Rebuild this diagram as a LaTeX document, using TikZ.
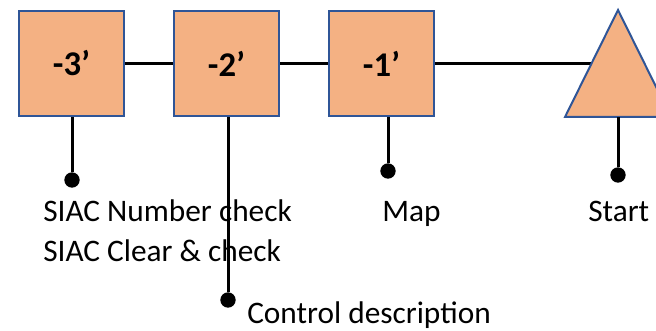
\documentclass[tikz,border=0pt]{standalone}
\usepackage{fontspec}
\setmainfont{Carlito}
\definecolor{boxfill}{HTML}{F4B183}
\definecolor{boxline}{HTML}{2F5597}
\begin{document}
\begin{tikzpicture}
[x=0.75pt,y=-0.75pt,
  boxdecorate/.style={shape=rectangle,draw=boxline,fill=boxfill,line width=1.5pt,
    minimum size=79pt,inner sep=0pt,font=\fontsize{26}{30}\selectfont\bfseries},%
  linedecorate/.style={line width=2.25pt,black},
  dotdecorate/.style={shape=circle,fill=black,inner sep=0pt,minimum size=11.5pt},
  textdecorate/.style={anchor=base west,inner sep=0pt,font=\fontsize{23.5}{28}\selectfont}]
\useasboundingbox (0,0) rectangle (656,331);
\clip (0,0) rectangle (656,331);
%% boxes and the start triangle
\foreach \nodename/\x/\txt in {b3/71.5/-3’, b2/226.5/-2’, b1/381.5/-1’}
{
  \node (\nodename) at (\x,63.5) [boxdecorate] {\txt};
}
\coordinate (start) at (618,80);
%% dots
\foreach \nodename/\x/\y in {d3/72/180, d2/228/300, d1/388/171, d0/618/175}
{
  \node (\nodename) at (\x,\y) [dotdecorate] {};
}
%% lines
\draw[linedecorate] (b3) -- (b2);
\draw[linedecorate] (b2) -- (b1);
\draw[linedecorate] (b1) -- (b1 -| start);
\draw[linedecorate] (d0) -- (start);
\draw[boxline,fill=boxfill,line width=1.5pt] (618,10) -- (671,117) -- (565,117) -- cycle;
\draw[linedecorate] (d0) -- (d0 |- 0,117);
\foreach \dotname/\boxname in {d3/b3, d2/b2, d1/b1}
{
  \draw[linedecorate] (\dotname) -- (\dotname |- \boxname.south);
}
%% labels
\node (lnum) at (43,222) [textdecorate] {SIAC Number check};
\node (lclr) at (43,262) [textdecorate] {SIAC Clear \& check};
\node (lctl) at (247,323) [textdecorate] {Control description};
\node (lmap) at (382,222) [textdecorate] {Map};
\node (lsta) at (588,222) [textdecorate] {Start};
\end{tikzpicture}
\end{document}
